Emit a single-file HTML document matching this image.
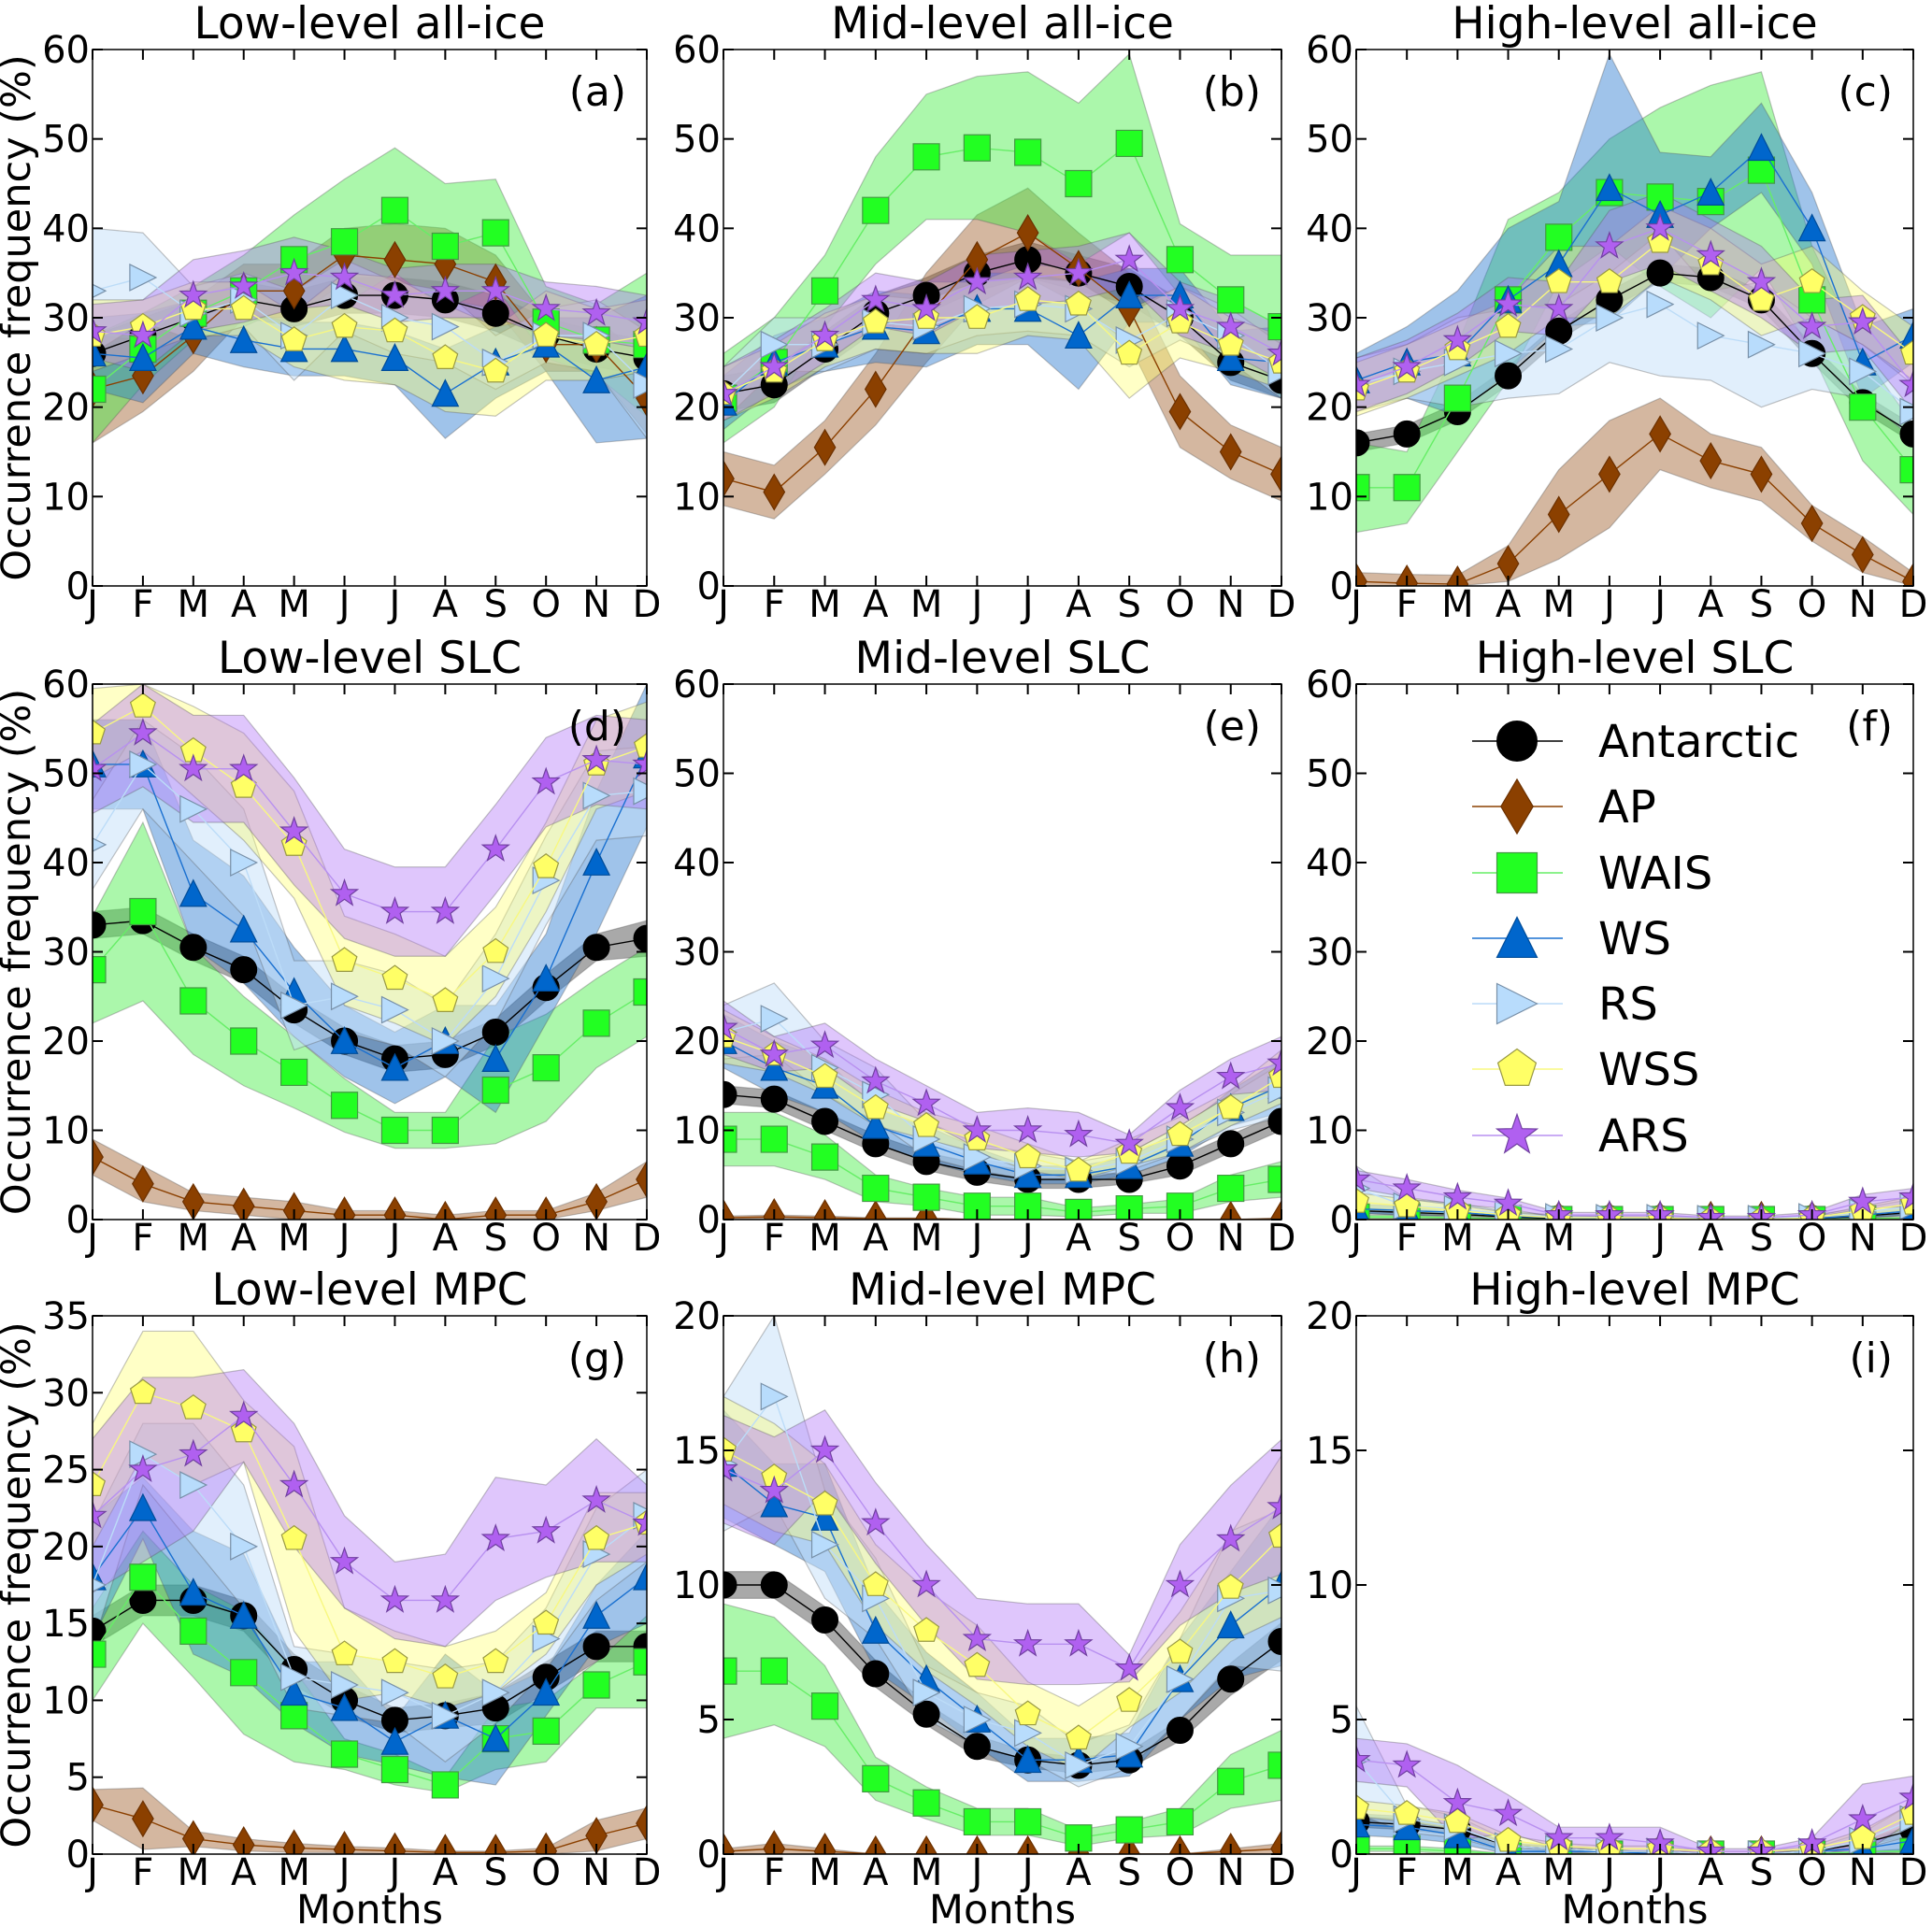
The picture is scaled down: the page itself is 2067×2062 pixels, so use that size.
<!DOCTYPE html>
<html><head><meta charset="utf-8"><style>
html,body{margin:0;padding:0;background:#fff}
svg{display:block;font-family:"DejaVu Sans","Liberation Sans",sans-serif}
</style></head><body>
<svg id="fig" width="2067" height="2062" viewBox="0 0 2067 2062" xmlns="http://www.w3.org/2000/svg"></svg>
<script>
const months=["J","F","M","A","M","J","J","A","S","O","N","D"];
const seriesNames=["Antarctic","AP","WAIS","WS","RS","WSS","ARS"];
const panelTitles=["Low-level all-ice","Mid-level all-ice","High-level all-ice","Low-level SLC","Mid-level SLC","High-level SLC","Low-level MPC","Mid-level MPC","High-level MPC"];
const panelLetters=["(a)","(b)","(c)","(d)","(e)","(f)","(g)","(h)","(i)"];
const panelYMax=[60,60,60,60,60,60,35,20,20];
const ticks60=[0,10,20,30,40,50,60];
const ticks35=[0,5,10,15,20,25,30,35];
const ticks20=[0,5,10,15,20];
const valsA=[[26,28,30,32,31,32.5,32.5,32,30.5,28,26.5,25.5],[22,23.5,28,33,33,37,36.5,36,34,27,27,21],[22,26.5,30.5,33,36.5,38.5,42,38,39.5,29.5,27.5,27],[26,25.5,29,27.5,26.5,26.5,25.5,21.5,25,27,23,24.5],[33,34.5,30.5,32,28,32.5,30,29,25,28,28,22.5],[28,29,31,31,27.5,29,28.5,25.5,24,28,27,28],[28.5,28,32.5,33.5,35,34.5,32.5,33,33,31,30.5,29.5]];
const sprA=[[2,2,2,2,2,2,2,2,2,2,2,2],[6,4,4,3,3,3,4,4,3,3,3,4],[6,4,3,4,5,7,7,7,6,4,4,8],[4,5,3,3,3,3,3,5,4,3,7,8],[7,5,3,3,5,4,4,4,3,3,4,6],[4,3,3,3,3,6,6,6,5,5,4,4],[3,4,4,4,4,3,3,3,3,3,3,3]];
const valsB=[[21.5,22.5,26.5,30.5,32.5,35,36.5,35,33.5,30,25,23],[12,10.5,15.5,22,30,36.5,39.5,35.5,31,19.5,15,12.5],[21,25,33,42,48,49,48.5,45,49.5,36.5,32,29],[20.5,25,27,29,28.5,31,31,28,32.5,32.5,25.5,25],[21.5,27,27,29.5,29,31,31.5,31,27.5,30.5,28,24],[21.5,24,27.5,29.5,30,30,32,31.5,26,29.5,27,25],[21.5,24.5,28,32,31,34,34.5,35,36.5,31,29,26]];
const sprB=[[2,2,2,2,2,2,2,2,2,2,2,2],[3,3,3,4,5,5,5,4,4,4,3,3],[5,5,4,6,7,8,9,9,10,4,5,8],[3,3,3,4,4,4,4,6,3,3,3,4],[3,3,3,3,3,3,3,3,3,3,3,3],[3,3,3,3,4,4,4,4,5,4,3,3],[3,3,3,3,3,3,3,3,3,3,3,3]];
const valsC=[[16,17,19.5,23.5,28.5,32,35,34.5,32,26,20.5,17],[0.5,0.3,0.2,2.5,8,12.5,17,14,12.5,7,3.5,0.5],[11,11,21,32,39,44,43.5,43,46.5,32,20,13],[23,25,26,32,36,44.5,41.5,44,49,40,25,28],[22.5,24,25,26,26.5,30,31.5,28,27,26,24,19.5],[22,24,26.5,29,34,34,38.5,36,32,34,30,26],[22.5,24.5,27.5,31.5,31,38,40,37,34,29,29.5,22.5]];
const sprC=[[1,1,1,1,1,1,1,1,1,1,1,1],[1,1,1,2,5,6,4,3,3,2,2,1],[5,4,6,9,5,6,10,13,11,6,6,5],[3,4,7,8,7,15,7,4,5,4,4,3],[3,3,5,5,5,5,8,5,7,4,3,3],[3,3,3,3,4,4,4,4,4,4,3,3],[3,3,3,3,3,4,4,4,4,3,3,3]];
const valsD=[[33,33.5,30.5,28,23.5,20,18,18.5,21,26,30.5,31.5],[7,4,2,1.5,1,0.5,0.5,0,0.5,0.5,2,4.5],[28,34.5,24.5,20,16.5,12.8,10,10,14.5,17,22,25.5],[51,51,36.5,32.5,25.5,20,17,20,18,27,40,52],[42,51,46,40,24,25,23.5,20,27,38,47.5,48],[54.5,57.5,52.5,48.5,42,29,27,24.5,30,39.5,51,53],[50.5,54.5,50.5,50.5,43.5,36.5,34.5,34.5,41.5,49,51.5,51]];
const sprD=[[1.5,1.5,1.5,1.5,1.5,1.5,1.5,1.5,1.5,1.5,1.5,2],[2,2,1,1,1,0.5,0.5,0.5,0.5,0.5,1,2],[6,10,6,5,4,3,2,2,6,6,5,5],[5,5,6,6,5,4,4,4,6,5,8,8],[5,5,6,6,5,4,4,4,5,5,5,5],[5,5,5,6,6,5,5,5,5,5,5,5],[5,6,6,6,6,5,5,5,5,5,5,5]];
const valsE=[[14,13.5,11,8.5,6.5,5.3,4.5,4.5,4.5,6,8.5,11],[0.2,0.3,0.2,0.1,0.1,0,0,0,0,0,0,0.1],[9,9,7,3.5,2.5,1.5,1.5,0.8,1.2,1.5,3.5,4.5],[20,17,15,10.5,8.5,6.5,5,5,6,8.5,12.5,15],[21,22.5,17,14,9,7,6,5.5,6.5,9,12,14.5],[20.5,18.5,16,12.5,10.5,9,7,5.5,7.5,9.5,12.5,16],[21.5,18.5,19.5,15.5,13,10,10,9.5,8.5,12.5,16,17.5]];
const sprE=[[1,1,1,1,1,1,1,1,0.5,1,1,1],[0.2,0.2,0.2,0.1,0.1,0,0,0,0,0,0,0.1],[3,3,2.5,1.5,1,1,1,0.5,0.5,0.8,1.5,2],[3,3,3,2,2,1.5,1,1,1,1.5,2,3],[3,4,3,3,2,1.5,1.5,1,1,1.5,2,3],[3,2,2,2,1.5,1.5,1.5,1,1.5,2,2,3],[3,2,2.5,2.5,2,2,2.5,2.5,1,2,2,3]];
const valsF=[[1,0.8,0.6,0.3,0.1,0.1,0.1,0,0,0.1,0.4,0.8],[0,0,0,0,0,0,0,0,0,0,0,0],[0.3,0.3,0.2,0.1,0,0,0,0,0,0,0.1,0.2],[1.2,1,0.8,0.4,0.2,0.1,0.1,0,0,0.1,0.5,1],[3.5,1.5,1.2,0.6,0.3,0.2,0.2,0.1,0.1,0.3,0.8,1.5],[2,1.5,1,0.5,0.2,0.2,0.2,0,0,0.2,1,1.8],[4.5,3.5,2.5,1.8,0.5,0.5,0.5,0.2,0.2,0.5,2,2.5]];
const sprF=[[0.3,0.3,0.2,0.1,0.1,0,0,0,0,0,0.2,0.3],[0,0,0,0,0,0,0,0,0,0,0,0],[0.2,0.2,0.1,0,0,0,0,0,0,0,0.1,0.1],[0.5,0.5,0.4,0.2,0.1,0.1,0,0,0,0.1,0.3,0.5],[2.5,0.8,0.6,0.3,0.2,0.1,0.1,0.1,0.1,0.2,0.5,0.8],[1,0.8,0.6,0.3,0.2,0.1,0.1,0,0,0.1,0.5,0.8],[1,1,0.8,0.6,0.3,0.3,0.3,0.2,0.2,0.3,0.8,1]];
const valsG=[[14.5,16.5,16.5,15.5,12,10,8.7,9,9.5,11.5,13.5,13.5],[3.2,2.3,1,0.6,0.4,0.3,0.2,0.1,0.1,0.2,1.2,2],[13,18,14.5,11.8,9,6.5,5.5,4.5,7.5,8,11,12.5],[18,22.5,17,15.5,10.5,9.5,7.3,9,7.5,10.5,15.5,18],[17.5,26,24,20,11.5,11,10.5,9,10.5,14,19.5,22],[24,30,29,27.5,20.5,13,12.5,11.5,12.5,15,20.5,21.5],[22,25,26,28.5,24,19,16.5,16.5,20.5,21,23,21.5]];
const sprG=[[1,1,1,1,1,1,0.8,0.8,1,1,1,1],[1,2,0.5,0.4,0.3,0.2,0.2,0.1,0.1,0.2,1,1],[3,3,3,4,3,1,1,0.5,2,2,1.5,3],[4,2,4,4,2,3,1.5,4,3,1.5,2,3],[4,2,4,4,2,2,2,3,2,2,3,3],[4,4,5,2,6,3,2,2,2,2,3,2],[5,6,5,3,4,3,2.5,3,4,3,4,2.5]];
const valsH=[[10,10,8.7,6.7,5.2,4,3.5,3.3,3.5,4.6,6.5,7.9],[0.1,0.2,0.1,0,0,0,0,0,0,0,0.1,0.2],[6.8,6.8,5.5,2.8,1.9,1.2,1.2,0.6,0.9,1.2,2.7,3.3],[14.5,13,12.5,8.3,6.5,5,3.5,3.5,3.7,6.5,8.5,10],[14.5,17,11.5,9.5,6,5,4.5,3.3,4,6.5,9.5,9.8],[15,14,13,10,8.3,7,5.2,4.3,5.7,7.5,9.9,11.8],[14.3,13.5,15,12.3,10,8,7.8,7.8,6.9,10,11.7,12.9]];
const sprH=[[0.5,0.5,0.5,0.5,0.4,0.4,0.3,0.3,0.3,0.4,0.6,0.7],[0.1,0.2,0.1,0,0,0,0,0,0,0,0.1,0.2],[2.5,2,1.5,0.8,0.6,0.5,0.5,0.3,0.3,0.5,1,1.3],[2,1.5,2,1.5,1,1,0.8,0.8,0.8,1.5,2,3],[2.5,4,2,1.5,1,1,1,0.8,0.8,1.5,2.5,3],[2,2,1.5,1.5,1.5,1.5,1.2,1.2,1,1.5,2,3],[2,2,1.5,1.5,1.5,1.5,1.5,1.5,0.5,1.5,2,2.5]];
const valsI=[[1.2,1.1,0.9,0.3,0.2,0.1,0.1,0,0,0.1,0.4,0.9],[0,0,0,0,0,0,0,0,0,0,0,0],[0.2,0.2,0.1,0,0,0,0,0,0,0,0.1,0.1],[1.1,1,0.7,0.1,0.1,0.1,0,0,0,0.1,0.2,0.5],[3.5,1.3,1,0.3,0.2,0.1,0.1,0,0,0.1,0.5,1.3],[1.7,1.5,1.2,0.5,0.3,0.2,0.2,0.1,0.1,0.2,0.6,1.5],[3.5,3.3,1.9,1.5,0.6,0.6,0.4,0.1,0.1,0.4,1.3,2.1]];
const sprI=[[0.2,0.2,0.2,0.1,0.1,0,0,0,0,0,0.1,0.2],[0,0,0,0,0,0,0,0,0,0,0,0],[0.1,0.1,0.1,0,0,0,0,0,0,0,0,0.1],[0.4,0.4,0.3,0.1,0.1,0,0,0,0,0,0.2,0.4],[2,0.5,0.4,0.2,0.1,0.1,0.1,0,0,0.1,0.3,0.6],[0.3,0.3,0.3,0.2,0.1,0.1,0.1,0,0,0.1,0.3,0.4],[0.8,0.8,1.4,0.7,0.4,0.4,0.6,0.1,0.1,0.2,1.3,0.8]];

const allVals=[valsA,valsB,valsC,valsD,valsE,valsF,valsG,valsH,valsI];
const allSpr=[sprA,sprB,sprC,sprD,sprE,sprF,sprG,sprH,sprI];
const lineCol=["#000000","#8b4000","#66ee66","#1a70d0","#bcdcf8","#f8f880","#b890f0"];
const markFill=["#000000","#8b4000","#22ff22","#0066cc","#b8dcfc","#ffff66","#b060f0"];
const markStroke=["#000000","#6b3000","#449944","#004c99","#7890a8","#999944","#7040a0"];
const bandFill=["#404040","#a0602c","#44ee44","#2a7ad0","#c4e0fa","#ffff70","#b070f8"];
const bandOp=[0.45,0.45,0.45,0.45,0.5,0.4,0.4];
const mShape=["circle","diamond","square","tri","right","pent","star"];

const svg=document.getElementById('fig');
const NS="http://www.w3.org/2000/svg";
function mk(tag,attrs,parent){const e=document.createElementNS(NS,tag);for(const k in attrs)e.setAttribute(k,attrs[k]);(parent||svg).appendChild(e);return e;}
const colX=[99,774,1451], colW=[593,597,596];
const rowY=[53,732,1408], rowH=[574,573,576];

function markerPath(shape,cx,cy,s){
  const r=s/2;
  if(shape==="diamond")return `M${cx},${cy-r*1.35}L${cx+r*0.8},${cy}L${cx},${cy+r*1.35}L${cx-r*0.8},${cy}Z`;
  if(shape==="square")return `M${cx-r},${cy-r}h${2*r}v${2*r}h${-2*r}Z`;
  if(shape==="tri")return `M${cx},${cy-r*1.05}L${cx+r},${cy+r*0.95}L${cx-r},${cy+r*0.95}Z`;
  if(shape==="right")return `M${cx-r},${cy-r}L${cx+r},${cy}L${cx-r},${cy+r}Z`;
  if(shape==="pent"){let d="";for(let i=0;i<5;i++){const a=-Math.PI/2+i*2*Math.PI/5;d+=(i?"L":"M")+(cx+r*Math.cos(a))+","+(cy+r*Math.sin(a));}return d+"Z";}
  if(shape==="star"){let d="";for(let i=0;i<10;i++){const rr=i%2?r*0.42:r*1.05;const a=-Math.PI/2+i*Math.PI/5;d+=(i?"L":"M")+(cx+rr*Math.cos(a))+","+(cy+rr*Math.sin(a));}return d+"Z";}
  return "";
}
function drawMarker(g,si,cx,cy,s){
  if(mShape[si]==="circle"){const c=mk('circle',{cx,cy,r:s/2,fill:markFill[si],stroke:markStroke[si],'stroke-width':1},g);return c;}
  return mk('path',{d:markerPath(mShape[si],cx,cy,s),fill:markFill[si],stroke:markStroke[si],'stroke-width':1.2},g);
}

for(let p=0;p<9;p++){
  const col=p%3,row=Math.floor(p/3);
  const x0=colX[col],w=colW[col],y0=rowY[row],h=rowH[row],ymax=panelYMax[p];
  const X=i=>x0+i*w/11;
  const Y=v=>y0+h-Math.max(0,Math.min(v,ymax))/ymax*h;
  const g=mk('g',{});
  
  
  const clipId='clip'+p;
  const cp=mk('clipPath',{id:clipId},g);mk('rect',{x:x0,y:y0,width:w,height:h},cp);
  const t=mk('text',{x:x0+w/2,y:y0-12,'text-anchor':'middle','font-size':47},g);t.textContent=panelTitles[p];
  
  const plot=mk('g',{'clip-path':`url(#${clipId})`},g);
  const vals=allVals[p],spr=allSpr[p];
  for(let s=0;s<7;s++){
    let up="",dn="";
    for(let i=0;i<12;i++)up+=(i?"L":"M")+X(i)+","+Y(vals[s][i]+spr[s][i]);
    for(let i=11;i>=0;i--)dn+="L"+X(i)+","+Y(Math.max(0,vals[s][i]-spr[s][i]));
    const b=mk('path',{d:up+dn+"Z",fill:bandFill[s],'fill-opacity':bandOp[s],stroke:'#555','stroke-opacity':0.35,'stroke-width':1.2},plot);
    
  }
  for(let s=0;s<7;s++){
    let d="";for(let i=0;i<12;i++)d+=(i?"L":"M")+X(i)+","+Y(vals[s][i]);
    const l=mk('path',{d,fill:'none',stroke:lineCol[s],'stroke-width':1.4},plot);
    
    for(let i=0;i<12;i++){
      const m=drawMarker(plot,s,X(i),Y(vals[s][i]),28);
      
    }
  }
  mk('rect',{x:x0,y:y0,width:w,height:h,fill:'none',stroke:'#000','stroke-width':1.5},g);
  const tk=ymax===60?ticks60:(ymax===35?ticks35:ticks20);
  tk.forEach(v=>{
    const yy=Y(v);
    mk('line',{x1:x0,x2:x0+11,y1:yy,y2:yy,stroke:'#000','stroke-width':2},g);
    mk('line',{x1:x0+w-11,x2:x0+w,y1:yy,y2:yy,stroke:'#000','stroke-width':2},g);
    const tl=mk('text',{x:x0-3,y:yy+14,'text-anchor':'end','font-size':40},g);tl.textContent=v;
    
  });
  months.forEach((m,i)=>{
    mk('line',{x1:X(i),x2:X(i),y1:y0,y2:y0+11,stroke:'#000','stroke-width':2},g);
    mk('line',{x1:X(i),x2:X(i),y1:y0+h-11,y2:y0+h,stroke:'#000','stroke-width':2},g);
    const ml=mk('text',{x:X(i),y:y0+h+33,'text-anchor':'middle','font-size':40},g);ml.textContent=m;
    
  });
  const lt=mk('text',{x:x0+w-22,y:y0+60,'text-anchor':'end','font-size':44},g);lt.textContent=panelLetters[p];
  
  if(col===0){
    const yl=mk('text',{x:0,y:0,'text-anchor':'middle','font-size':43,transform:`translate(32,${y0+h/2}) rotate(-90)`},g);yl.textContent="Occurrence frequency (%)";
    
  }
  if(row===2){
    const xl=mk('text',{x:x0+w/2,y:2058,'text-anchor':'middle','font-size':43},g);xl.textContent="Months";
    
  }
}
// legend
const lg=mk('g',{});

const legY=[793,863,934,1004,1074,1144,1215];
for(let s=0;s<7;s++){
  const e=mk('g',{},lg);
  
  mk('line',{x1:1575,x2:1672,y1:legY[s],y2:legY[s],stroke:lineCol[s],'stroke-width':1.6},e);
  drawMarker(e,s,1623,legY[s],43);
  const t=mk('text',{x:1710,y:legY[s]+17,'font-size':48},e);t.textContent=seriesNames[s];
}
</script>
</body></html>
